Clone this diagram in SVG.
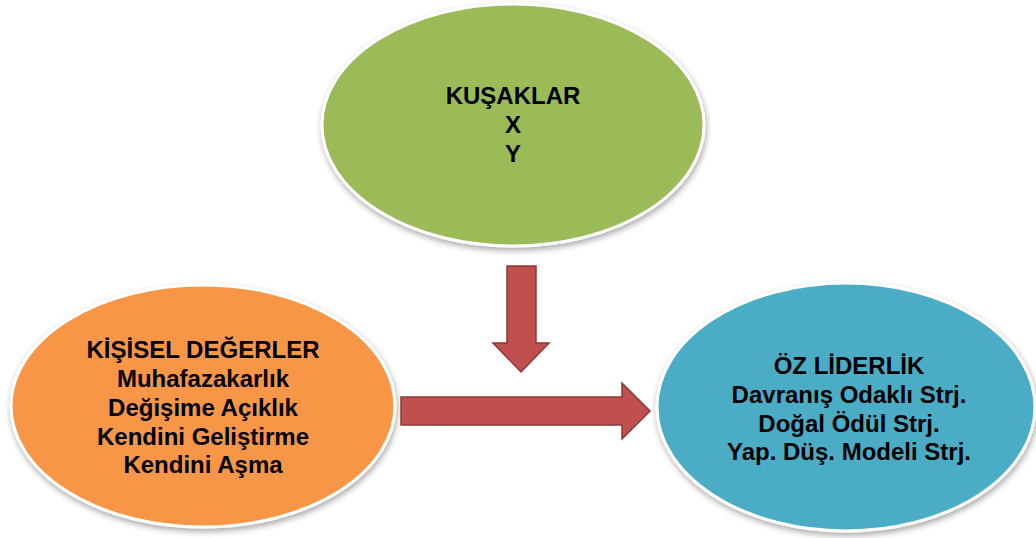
<svg xmlns="http://www.w3.org/2000/svg" width="1036" height="538" viewBox="0 0 1036 538">
<defs>
<filter id="sh" x="-10%" y="-10%" width="120%" height="125%">
<feGaussianBlur in="SourceAlpha" stdDeviation="3"/>
<feOffset dx="1" dy="3" result="b"/>
<feComponentTransfer><feFuncA type="linear" slope="0.35"/></feComponentTransfer>
<feMerge><feMergeNode/><feMergeNode in="SourceGraphic"/></feMerge>
</filter>
<style>
.node{stroke:#ffffff;stroke-width:3;filter:url(#sh)}
.t{font-family:"Liberation Sans",Arial,sans-serif;font-weight:bold;font-size:24px;fill:#000;text-anchor:middle}
.arr{fill:#C0504D;stroke:#8C3836;stroke-width:1.5;stroke-linejoin:miter}
</style>
</defs>
<rect width="1036" height="538" fill="#ffffff"/>
<g id="kusaklar">
<ellipse class="node" cx="513" cy="125" rx="191" ry="121" fill="#9BBB59"/>
<text class="t" x="513" y="104">KUŞAKLAR</text>
<text class="t" x="513" y="133">X</text>
<text class="t" x="513" y="162">Y</text>
</g>
<g id="kisisel">
<ellipse class="node" cx="203" cy="406" rx="192" ry="121" fill="#F79646"/>
<text class="t" x="203" y="358">KİŞİSEL DEĞERLER</text>
<text class="t" x="203" y="387">Muhafazakarlık</text>
<text class="t" x="203" y="416">Değişime Açıklık</text>
<text class="t" x="203" y="445">Kendini Geliştirme</text>
<text class="t" x="203" y="473">Kendini Aşma</text>
</g>
<g id="ozliderlik">
<ellipse class="node" cx="846" cy="407" rx="189" ry="124" fill="#4BACC6"/>
<text class="t" x="849" y="374">ÖZ LİDERLİK</text>
<text class="t" x="849" y="403">Davranış Odaklı Strj.</text>
<text class="t" x="849" y="432">Doğal Ödül Strj.</text>
<text class="t" x="849" y="460">Yap. Düş. Modeli Strj.</text>
</g>
<g id="connectors">
<path class="arr" d="M507,266 L536,266 L536,343 L549,343 L521,372 L493,343 L507,343 Z"/>
<path class="arr" d="M401,397 L622,397 L622,383 L650,411 L622,439 L622,425 L401,425 Z"/>
</g>
</svg>
